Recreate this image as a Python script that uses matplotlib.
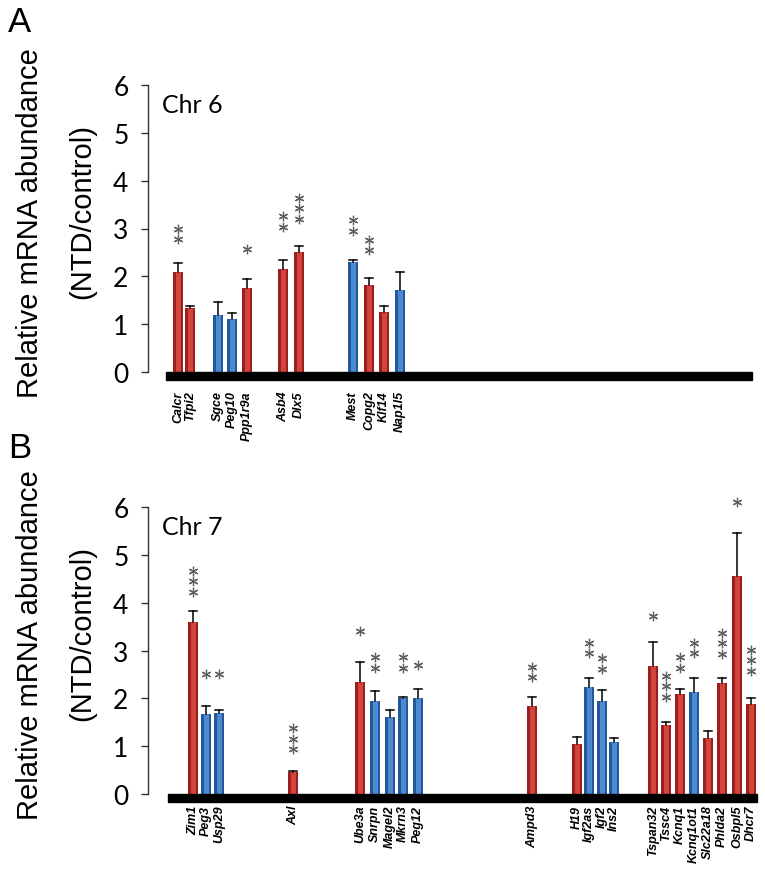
import matplotlib
matplotlib.use("Agg")
import matplotlib.pyplot as plt
from matplotlib.patches import Rectangle

# ---------------- data ----------------
genes_a = ["Calcr", "Tfpi2", "Sgce", "Peg10", "Ppp1r9a", "Asb4", "Dlx5",
           "Mest", "Copg2", "Klf14", "Nap1l5"]
vals_a = [2.10, 1.33, 1.20, 1.10, 1.75, 2.15, 2.50, 2.30, 1.82, 1.25, 1.72]
errs_a = [0.17, 0.05, 0.27, 0.14, 0.20, 0.20, 0.14, 0.05, 0.15, 0.13, 0.38]
colors_a = ["r", "r", "b", "b", "r", "r", "r", "b", "r", "r", "b"]
stars_a = [2, 0, 0, 0, 1, 2, 3, 2, 2, 0, 0]
stary_a = [2.88, 0, 0, 0, 2.58, 3.15, 3.42, 3.06, 2.65, 0, 0]

genes_b = ["Zim1", "Peg3", "Usp29", "Axl", "Ube3a", "Snrpn", "Magel2", "Mkrn3",
           "Peg12", "Ampd3", "H19", "Igf2as", "Igf2", "Ins2", "Tspan32", "Tssc4",
           "Kcnq1", "Kcnq1ot1", "Slc22a18", "Phlda2", "Osbpl5", "Dhcr7"]
vals_b = [3.60, 1.67, 1.70, 0.45, 2.35, 1.95, 1.60, 2.00, 2.00, 1.83, 1.04,
          2.23, 1.94, 1.08, 2.67, 1.44, 2.10, 2.13, 1.17, 2.33, 4.56, 1.88]
errs_b = [0.22, 0.16, 0.05, 0.03, 0.42, 0.20, 0.15, 0.02, 0.20, 0.19, 0.16,
          0.19, 0.23, 0.09, 0.50, 0.06, 0.09, 0.30, 0.15, 0.09, 0.90, 0.12]
colors_b = ["r", "b", "b", "r", "r", "b", "b", "b", "b", "r", "r",
            "b", "b", "b", "r", "r", "r", "b", "r", "r", "r", "r"]
stars_b = [3, 1, 1, 3, 1, 2, 0, 2, 1, 2, 0, 2, 2, 0, 1, 3, 2, 2, 0, 3, 1, 3]
stary_b = [4.45, 2.50, 2.50, 1.15, 3.40, 2.75, 0, 2.75, 2.70, 2.55, 0,
           3.05, 2.73, 0, 3.73, 2.25, 2.75, 3.05, 0, 3.15, 6.10, 2.80]

yticks = [0, 1, 2, 3, 4, 5, 6]

# ---------------- layout (pixel-like x positions) ----------------
pos_a = [178, 190, 218, 232, 247, 283, 299, 353, 369, 384, 400]
pos_b = [193, 206, 219, 293, 360, 375, 390, 403, 418, 532, 577, 589, 602, 614,
         653, 666, 680, 694, 708, 722, 737, 751]

W, H = 765, 870
fig = plt.figure(figsize=(W / 100, H / 100), dpi=100)

DARK = {"r": "#9C1E1E", "b": "#22589C"}
LIGHT = {"r": "#D3443B", "b": "#4C8AD2"}

def make_panel(top_px, bot_px, genes, vals, errs, cols, stars, stary, pos,
               bar_x0, bar_x1, label_y, letter, letter_y, chr_text, chr_y):
    ax = fig.add_axes([148 / W, 1 - bot_px / H, (W - 148) / W, (bot_px - top_px) / H])
    ax.set_xlim(148, W)
    ax.set_ylim(0, 6)
    for s in ["top", "right", "bottom"]:
        ax.spines[s].set_visible(False)
    ax.spines["left"].set_linewidth(1.0)
    ax.spines["left"].set_color("#333333")
    ax.set_xticks([])
    ax.set_yticks(yticks)
    ax.set_yticklabels([str(t) for t in yticks], fontfamily="Lato", fontsize=19)
    ax.tick_params(axis="y", length=5, width=1, pad=9, color="#333333")
    ppu = (bot_px - top_px) / 6.0

    for x, v, e, c in zip(pos, vals, errs, cols):
        ax.bar(x, v, width=10, color=DARK[c], zorder=2)
        ax.bar(x, v, width=5, color=LIGHT[c], zorder=2.1)
        ax.plot([x, x], [v, v + e], color="black", lw=1.1, zorder=3)
        ax.plot([x - 4, x + 4], [v + e, v + e], color="black", lw=1.1, zorder=3)

    step = 10.5 / ppu
    for x, n, y in zip(pos, stars, stary):
        for i in range(n):
            yy = y + (i - (n - 1) / 2) * step
            ax.plot([x], [yy], marker=(6, 2, 0), markersize=6.8, mew=0.9,
                    color="#606060", zorder=4, clip_on=False)

    # thick black baseline
    ax.add_patch(Rectangle((bar_x0, -8 / ppu), bar_x1 - bar_x0, 8 / ppu,
                           color="black", clip_on=False, zorder=5))

    for x, g in zip(pos, genes):
        ax.text(x, label_y, g, rotation=90, ha="center", va="top",
                fontsize=9, fontstyle="italic", fontweight="bold",
                family="Liberation Sans")

    ax.text(162, chr_y, chr_text, fontsize=18, family="Lato",
            transform=ax.transData, va="center", ha="left")

    mid = (top_px + bot_px) / 2
    fig.text(30 / W, 1 - (mid - 6) / H, "Relative mRNA abundance", rotation=90,
             ha="center", va="center", fontsize=21, family="Liberation Sans")
    fig.text(82 / W, 1 - (mid - 18) / H, "(NTD/control)", rotation=90,
             ha="center", va="center", fontsize=21, family="Liberation Sans")
    fig.text(8 / W, 1 - letter_y / H, letter, fontsize=25, family="Liberation Sans",
             ha="left", va="center")
    return ax

make_panel(86, 373, genes_a, vals_a, errs_a, colors_a, stars_a, stary_a, pos_a,
           166, 752, -0.38, "A", 22, "Chr 6", 5.6)
make_panel(508, 795, genes_b, vals_b, errs_b, colors_b, stars_b, stary_b, pos_b,
           168, 757, -0.22, "B", 449, "Chr 7", 5.6)

fig.savefig("out.png", dpi=100)
